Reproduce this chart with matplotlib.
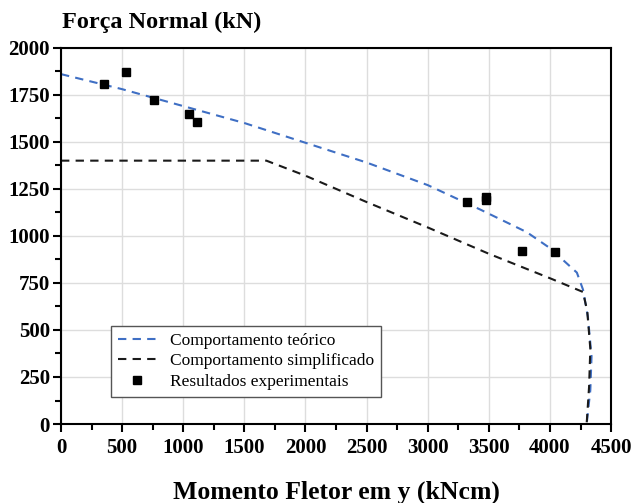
import matplotlib.pyplot as plt
from matplotlib.ticker import MultipleLocator

plt.rcParams['font.family'] = ['Liberation Serif', 'DejaVu Serif']

# curva teórica (momento, normal)
teo_m = [0, 500, 1000, 1500, 2000, 2500, 3000, 3430, 3810, 4000, 4220, 4270, 4310, 4340, 4330, 4300]
teo_n = [1860, 1780, 1690, 1600, 1495, 1390, 1270, 1140, 1020, 935, 805, 715, 570, 360, 180, 0]

# curva simplificada
sim_m = [0, 1680, 2000, 2500, 3000, 3500, 4000, 4270, 4305, 4330, 4320, 4300]
sim_n = [1400, 1400, 1320, 1180, 1045, 905, 775, 702, 600, 400, 200, 0]

# resultados experimentais
exp_m = [350, 530, 760, 1050, 1110, 3320, 3480, 3480, 3770, 4040]
exp_n = [1805, 1870, 1720, 1650, 1605, 1180, 1190, 1205, 920, 915]

fig = plt.figure(figsize=(6.33, 5.03), dpi=100)
ax = fig.add_axes([0.0964, 0.157, 0.869, 0.748])

ax.plot(teo_m, teo_n, color='#3f6fc4', ls=(0, (4, 3)), lw=1.5, label='Comportamento teórico')
ax.plot(sim_m, sim_n, color='#1a1a1a', ls=(0, (4, 3)), lw=1.5, label='Comportamento simplificado')
ax.plot(exp_m, exp_n, ls='none', marker='s', ms=6, color='black', label='Resultados experimentais')

ax.set_xlim(0, 4500)
ax.set_ylim(0, 2000)
ax.xaxis.set_major_locator(MultipleLocator(500))
ax.xaxis.set_minor_locator(MultipleLocator(250))
ax.yaxis.set_major_locator(MultipleLocator(250))
ax.yaxis.set_minor_locator(MultipleLocator(125))
ax.grid(True, which='major', color='#dddddd', lw=1)
ax.set_axisbelow(True)
ax.tick_params(which='major', direction='out', length=6, width=1.5, labelsize=15, pad=4)
ax.tick_params(which='minor', direction='out', length=4, width=1.5)
ax.tick_params(axis='y', which='major', pad=2)
for lab in ax.get_xticklabels() + ax.get_yticklabels():
    lab.set_fontweight('bold')
for s in ax.spines.values():
    s.set_linewidth(1.5)

ax.set_xlabel('Momento Fletor em y (kNcm)', fontsize=18.5, fontweight='bold', labelpad=16)
fig.text(0.098, 0.955, 'Força Normal (kN)', fontsize=17.5, fontweight='bold', ha='left', va='center')

leg = ax.legend(loc='lower left', bbox_to_anchor=(0.075, 0.05), fontsize=12.5, fancybox=False,
                edgecolor='#555555', framealpha=1, handlelength=2.2, borderpad=0.4, labelspacing=0.25)
leg.get_frame().set_linewidth(1)

fig.savefig('out.png', dpi=100)
